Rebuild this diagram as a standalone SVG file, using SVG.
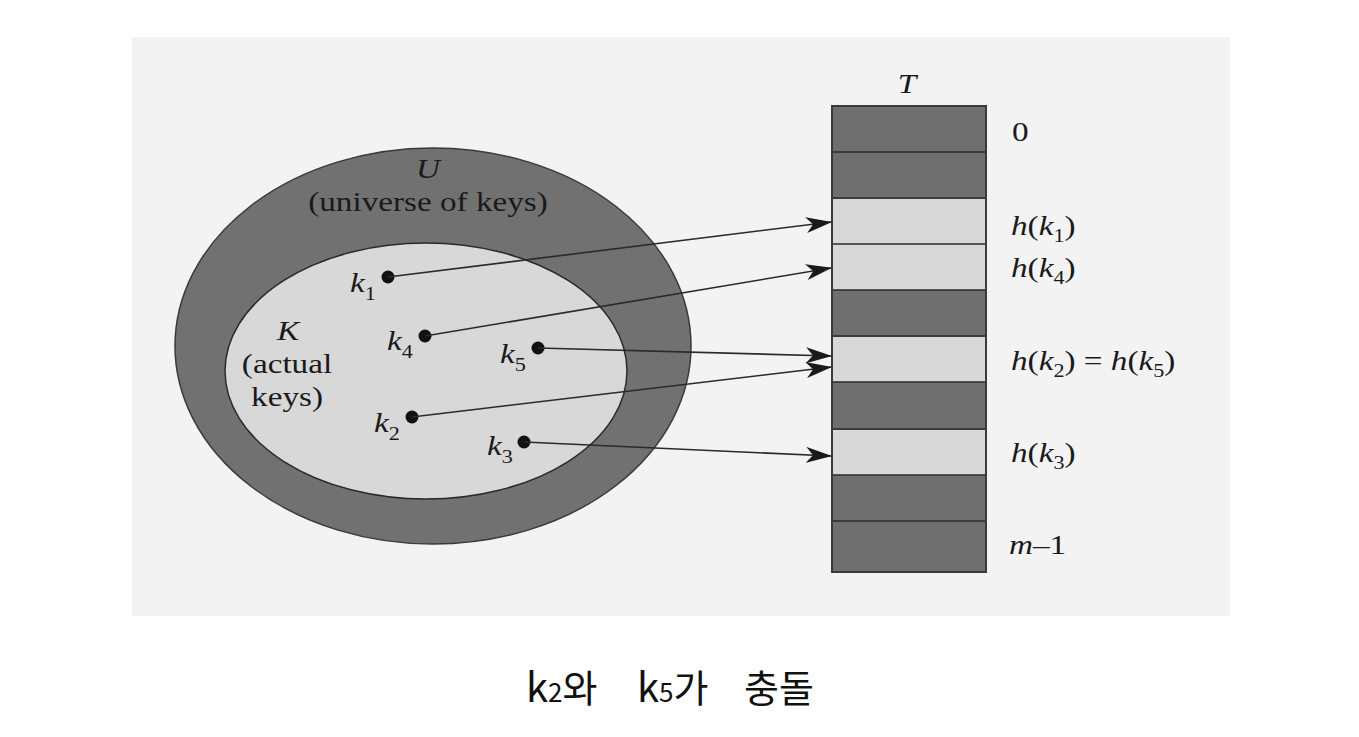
<svg xmlns="http://www.w3.org/2000/svg" width="1359" height="737" viewBox="0 0 1359 737">
<defs>
<style>
.t{font-family:"Liberation Serif","Times New Roman",serif;font-size:27px;fill:#1a1a1a}
.i{font-style:italic}
.s{font-size:18px}
.dark{fill:#6f6f6f}
.light{fill:#d8d8d8}
.sep{stroke:#2a2a2a;stroke-width:1.5}
.arr{stroke:#2a2a2a;stroke-width:1.6;fill:none;marker-end:url(#ah)}
.dot{fill:#111}
.cap{font-family:"Noto Sans CJK KR","Noto Sans",sans-serif;fill:#111}
</style>
<marker id="ah" viewBox="0 0 26 16" refX="25" refY="8" markerWidth="26" markerHeight="16" markerUnits="userSpaceOnUse" orient="auto">
<path d="M0,0 L26,8 L0,16 L7,8 Z" fill="#1a1a1a"/>
</marker>
</defs>
<rect width="1359" height="737" fill="#ffffff"/>
<rect x="132" y="37" width="1098" height="579" fill="#f3f3f3"/>

<g id="universe">
<ellipse cx="433" cy="346" rx="258" ry="198" fill="#717171" stroke="#3a3a3a" stroke-width="1.5"/>
<g transform="translate(428,178) scale(1.23,1)"><text class="t i" text-anchor="middle">U</text></g>
<g transform="translate(428,211) scale(1.23,1)"><text class="t" text-anchor="middle">(universe of keys)</text></g>
</g>

<g id="actual-keys">
<ellipse cx="426" cy="371" rx="201" ry="128" fill="#d8d8d8" stroke="#2a2a2a" stroke-width="1.5"/>
<g transform="translate(288,340) scale(1.23,1)"><text class="t i" text-anchor="middle">K</text></g>
<g transform="translate(287,373) scale(1.23,1)"><text class="t" text-anchor="middle">(actual</text></g>
<g transform="translate(287,406) scale(1.23,1)"><text class="t" text-anchor="middle">keys)</text></g>
</g>

<g id="k1"><circle class="dot" cx="388" cy="277" r="6.5"/><g transform="translate(350,292) scale(1.23,1)"><text class="t i">k<tspan class="s" dy="8" font-style="normal">1</tspan></text></g></g>
<g id="k4"><circle class="dot" cx="425" cy="336" r="6.5"/><g transform="translate(387,350) scale(1.23,1)"><text class="t i">k<tspan class="s" dy="8" font-style="normal">4</tspan></text></g></g>
<g id="k5"><circle class="dot" cx="538" cy="348" r="6.5"/><g transform="translate(500,363) scale(1.23,1)"><text class="t i">k<tspan class="s" dy="8" font-style="normal">5</tspan></text></g></g>
<g id="k2"><circle class="dot" cx="412" cy="417" r="6.5"/><g transform="translate(374,432) scale(1.23,1)"><text class="t i">k<tspan class="s" dy="8" font-style="normal">2</tspan></text></g></g>
<g id="k3"><circle class="dot" cx="524" cy="442" r="6.5"/><g transform="translate(487,455) scale(1.23,1)"><text class="t i">k<tspan class="s" dy="8" font-style="normal">3</tspan></text></g></g>

<g id="table-T">
<g transform="translate(907,93) scale(1.23,1)"><text class="t i" text-anchor="middle">T</text></g>
<rect class="dark" x="832" y="106" width="154" height="466"/>
<rect class="light" x="832" y="199" width="154" height="91"/>
<rect class="light" x="832" y="337" width="154" height="45"/>
<rect class="light" x="832" y="430" width="154" height="45"/>
<g>
<line class="sep" x1="832" y1="152" x2="986" y2="152"/>
<line class="sep" x1="832" y1="198" x2="986" y2="198"/>
<line class="sep" x1="832" y1="244" x2="986" y2="244"/>
<line class="sep" x1="832" y1="290" x2="986" y2="290"/>
<line class="sep" x1="832" y1="336" x2="986" y2="336"/>
<line class="sep" x1="832" y1="382" x2="986" y2="382"/>
<line class="sep" x1="832" y1="429" x2="986" y2="429"/>
<line class="sep" x1="832" y1="475" x2="986" y2="475"/>
<line class="sep" x1="832" y1="521" x2="986" y2="521"/>
</g>
<rect x="832" y="106" width="154" height="466" fill="none" stroke="#3a3a3a" stroke-width="2"/>
</g>

<g id="slot-labels">
<g transform="translate(1012,141) scale(1.23,1)"><text class="t">0</text></g>
<g transform="translate(1011,235) scale(1.23,1)"><text class="t"><tspan class="i">h</tspan>(<tspan class="i">k</tspan><tspan class="s" dy="7">1</tspan><tspan dy="-7">)</tspan></text></g>
<g transform="translate(1011,277) scale(1.23,1)"><text class="t"><tspan class="i">h</tspan>(<tspan class="i">k</tspan><tspan class="s" dy="7">4</tspan><tspan dy="-7">)</tspan></text></g>
<g transform="translate(1011,370) scale(1.23,1)"><text class="t"><tspan class="i">h</tspan>(<tspan class="i">k</tspan><tspan class="s" dy="7">2</tspan><tspan dy="-7">) = </tspan><tspan class="i">h</tspan>(<tspan class="i">k</tspan><tspan class="s" dy="7">5</tspan><tspan dy="-7">)</tspan></text></g>
<g transform="translate(1011,462) scale(1.23,1)"><text class="t"><tspan class="i">h</tspan>(<tspan class="i">k</tspan><tspan class="s" dy="7">3</tspan><tspan dy="-7">)</tspan></text></g>
<g transform="translate(1009,554) scale(1.23,1)"><text class="t"><tspan class="i">m</tspan>–1</text></g>
</g>

<g id="connectors">
<line class="arr" x1="388" y1="277" x2="831" y2="222"/>
<line class="arr" x1="425" y1="336" x2="831" y2="268"/>
<line class="arr" x1="538" y1="348" x2="831" y2="356"/>
<line class="arr" x1="412" y1="417" x2="831" y2="367"/>
<line class="arr" x1="524" y1="442" x2="831" y2="456"/>
</g>

<g id="caption">
<text class="cap" y="702"><tspan x="526" font-size="40">k</tspan><tspan font-size="26">2</tspan><tspan font-size="38">와</tspan><tspan x="637" font-size="40">k</tspan><tspan font-size="26">5</tspan><tspan font-size="38">가</tspan><tspan x="744" font-size="38">충돌</tspan></text>
</g>
</svg>
